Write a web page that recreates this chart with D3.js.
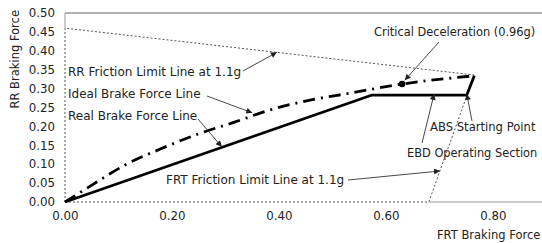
<!DOCTYPE html>
<html><head><meta charset="utf-8">
<script src="https://cdn.jsdelivr.net/npm/d3@7"></script>
<style>body{margin:0;background:#fff}svg{display:block}text{font-family:"DejaVu Sans",sans-serif;fill:#222}</style>
</head><body><svg id="c" width="542" height="243"></svg>
<script>
// Data
const xTicks = [0, 0.2, 0.4, 0.6, 0.8];
const yTicks = [0, 0.05, 0.1, 0.15, 0.2, 0.25, 0.3, 0.35, 0.4, 0.45, 0.5];
const idealX = [0, 0.045, 0.115, 0.178, 0.249, 0.314, 0.389, 0.46, 0.533, 0.63, 0.765];
const idealY = [0, 0.04, 0.10, 0.14, 0.18, 0.21, 0.246, 0.27, 0.288, 0.312, 0.334];
const realX = [0, 0.574, 0.751, 0.765];
const realY = [0, 0.283, 0.283, 0.334];
const rrLimitX = [0, 0, 0.765];
const rrLimitY = [0, 0.46, 0.336];
const frtLimitX = [0, 0.68, 0.765];
const frtLimitY = [0, 0, 0.336];
const critical = [0.63, 0.312];
const labels = ["RR Friction Limit Line at 1.1g", "Ideal Brake Force Line", "Real Brake Force Line",
  "FRT Friction Limit Line at 1.1g", "Critical Deceleration (0.96g)", "ABS Starting Point", "EBD Operating Section"];
const arrowTargets = [[0.396, 0.396], [0.35, 0.236], [0.293, 0.146], [0.701, 0.082], [0.635, 0.322], [0.751, 0.286], [0.69, 0.286]];

const svg = d3.select("#c");
const x = d3.scaleLinear().domain([0, 0.9]).range([65, 546.5]);
const y = d3.scaleLinear().domain([0, 0.5]).range([202, 13]);

svg.append("defs").append("marker").attr("id", "ah").attr("viewBox", "0 0 10 10")
  .attr("refX", 10).attr("refY", 5).attr("markerWidth", 7).attr("markerHeight", 6)
  .attr("markerUnits", "userSpaceOnUse").attr("orient", "auto")
  .append("path").attr("d", "M0,0L10,5L0,10z").attr("fill", "#222");

// frame
svg.append("line").attr("x1", x(0)).attr("x2", 542).attr("y1", y(0.5)).attr("y2", y(0.5))
  .attr("stroke", "#999").attr("stroke-width", 1.5);
svg.append("line").attr("x1", x(0)).attr("x2", x(0)).attr("y1", y(0.5)).attr("y2", y(0.46))
  .attr("stroke", "#999").attr("stroke-width", 1);
svg.append("line").attr("x1", x(0.68)).attr("x2", 542).attr("y1", y(0)).attr("y2", y(0))
  .attr("stroke", "#999").attr("stroke-width", 1.2);

// axes labels
const ya = d3.axisLeft(y).tickValues(yTicks).tickFormat(d3.format(".2f")).tickSize(0).tickPadding(10);
const yg = svg.append("g").attr("transform", `translate(${x(0)},0)`).call(ya);
const xa = d3.axisBottom(x).tickValues(xTicks).tickFormat(d3.format(".2f")).tickSize(0).tickPadding(10);
const xg = svg.append("g").attr("transform", `translate(0,${y(0)})`).call(xa);
[yg, xg].forEach(g => { g.select(".domain").remove(); g.selectAll("text").attr("font-size", 11.8).attr("font-family", "DejaVu Sans").attr("fill", "#1a1a1a"); });

svg.append("text").attr("transform", "translate(19,10) rotate(-90)").attr("text-anchor", "end")
  .attr("font-size", 11.5).text("RR Braking Force");
svg.append("text").attr("x", 437).attr("y", 239).attr("font-size", 11.5).text("FRT Braking Force");

const line = d3.line().x(d => x(d[0])).y(d => y(d[1]));
const dotted = (xs, ys) => svg.append("path").attr("d", line(xs.map((v, i) => [v, ys[i]])))
  .attr("fill", "none").attr("stroke", "#555").attr("stroke-width", 1).attr("stroke-dasharray", "2,2");
dotted(rrLimitX, rrLimitY);
dotted(frtLimitX, frtLimitY);

svg.append("path").attr("d", d3.line().x(d => x(d[0])).y(d => y(d[1])).curve(d3.curveMonotoneX)(idealX.map((v, i) => [v, idealY[i]])))
  .attr("fill", "none").attr("stroke", "#000").attr("stroke-width", 2.8).attr("stroke-dasharray", "12,6,2,6");
svg.append("path").attr("d", line(realX.map((v, i) => [v, realY[i]])))
  .attr("fill", "none").attr("stroke", "#000").attr("stroke-width", 2.8).attr("stroke-linejoin", "round");
svg.append("circle").attr("cx", x(critical[0])).attr("cy", y(critical[1])).attr("r", 3.2).attr("fill", "#000");

// annotations: text position (px), font size, leader start (px)
const textPos = [[68, 76], [68, 98], [68, 120], [166, 184], [374, 36], [430, 131], [407, 157]];
const textSize = [12, 12, 12, 12, 11.4, 11.6, 11.4];
const leadStart = [[243, 71], [207, 96], [198, 119], [348, 180], [439, 42], [472, 121], [422, 143]];
labels.forEach((t, i) => {
  svg.append("text").attr("x", textPos[i][0]).attr("y", textPos[i][1]).attr("font-size", textSize[i]).text(t);
  svg.append("line").attr("x1", leadStart[i][0]).attr("y1", leadStart[i][1])
    .attr("x2", x(arrowTargets[i][0])).attr("y2", y(arrowTargets[i][1]))
    .attr("stroke", "#333").attr("stroke-width", 0.9).attr("marker-end", "url(#ah)");
});
</script></body></html>
